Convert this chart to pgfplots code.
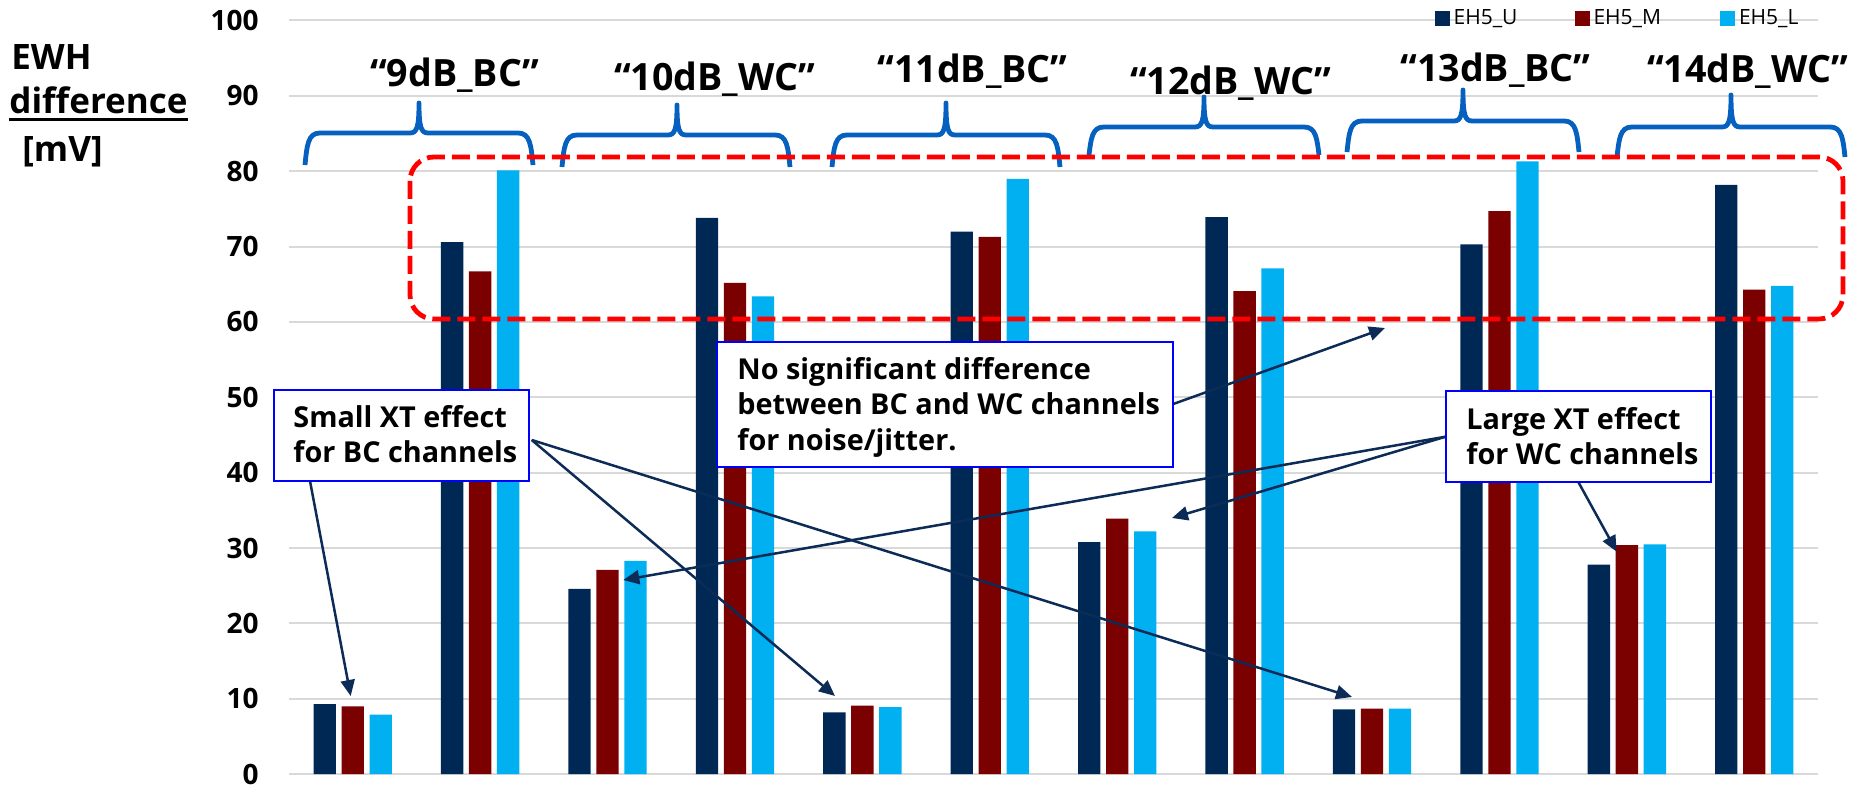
\documentclass[border=0pt]{standalone}
\usepackage{fontspec}
\setmainfont{Open Sans}
\usepackage{pgfplots}
\pgfplotsset{compat=1.18}
\usetikzlibrary{arrows.meta}
\definecolor{cU}{HTML}{002855}
\definecolor{cM}{HTML}{7B0000}
\definecolor{cL}{HTML}{00B0F0}
\definecolor{gridc}{HTML}{D9D9D9}
\definecolor{brc}{HTML}{0560C0}
\definecolor{arr}{HTML}{0C2B57}
\definecolor{boxb}{HTML}{0000FF}
\newcommand{\brc}[6]{%
\draw[brc, line width=2.4pt, line join=round] (#1,#5) .. controls ({#1+2},{#4+12}) and ({#1+3},#4) .. ({#1+15},#4) -- ({#3-9},#4) .. controls ({#3-2},#4) and (#3,{#4-6}) .. (#3,#6) .. controls (#3,{#4-6}) and ({#3+2},#4) .. ({#3+9},#4) -- ({#2-15},#4) .. controls ({#2-3},#4) and ({#2-2},{#4+12}) .. (#2,#5);}
\newcommand{\boxfont}{\fontsize{14.4}{17.5}\selectfont\bfseries}
\newcommand{\catfont}{\fontsize{18.8}{20}\selectfont\bfseries}
\newcommand{\ylfont}{\fontsize{17.5}{17.5}\selectfont\bfseries}
\begin{document}
\begin{tikzpicture}
\begin{axis}[
  at={(0pt,0pt)}, anchor=south west,
  scale only axis, width=764.5pt, height=376.85pt,
  xmin=-0.5, xmax=11.5, ymin=0, ymax=100,
  ytick={0,10,...,100}, xtick=\empty,
  ymajorgrids, grid style={gridc, line width=1pt},
  axis x line*=bottom, axis y line*=left,
  x axis line style={gridc, line width=1pt},
  y axis line style={draw=none},
  major tick length=0pt,
  /pgf/number format/assume math mode=true,
  yticklabel style={font=\fontsize{14}{14}\selectfont\bfseries, inner sep=0pt, xshift=-15pt},
  ybar, bar width=11.15pt,
  legend columns=3,
  legend style={at={(0.749,1.0027)}, anchor=west, draw=none, fill=none, inner sep=0pt,
    font=\fontsize{10.5}{10.5}\selectfont},
]
\addplot[fill=cU, draw=none, bar shift=-14pt, legend image code/.code={\fill[cU] (0pt,-3.75pt) rectangle (7.5pt,3.75pt);}] coordinates {
(0,9.3) (1,70.6) (2,24.6) (3,73.8) (4,8.2) (5,72.0) (6,30.8) (7,73.9) (8,8.6) (9,70.3) (10,27.8) (11,78.2)};
\addplot[fill=cM, draw=none, bar shift=0pt, legend image code/.code={\fill[cM] (0pt,-3.75pt) rectangle (7.5pt,3.75pt);}] coordinates {
(0,9.0) (1,66.7) (2,27.1) (3,65.2) (4,9.1) (5,71.3) (6,33.9) (7,64.1) (8,8.7) (9,74.7) (10,30.4) (11,64.3)};
\addplot[fill=cL, draw=none, bar shift=14pt, legend image code/.code={\fill[cL] (0pt,-3.75pt) rectangle (7.5pt,3.75pt);}] coordinates {
(0,7.9) (1,80.1) (2,28.3) (3,63.4) (4,8.9) (5,79.0) (6,32.2) (7,67.1) (8,8.7) (9,81.3) (10,30.5) (11,64.8)};
\legend{EH5\_U\hspace*{26.5pt}, EH5\_M\hspace*{27.5pt}, EH5\_L}
\end{axis}
\begin{scope}[x=0.5pt, y=-0.5pt, xshift=-144.5pt, yshift=387.1pt]
% y label
\node[anchor=base west, inner sep=0pt, font=\ylfont] at (11,70) {EWH};
\node[anchor=base west, inner sep=0pt, font=\ylfont] (dif) at (9,114) {difference};
\draw[line width=1.2pt] ([yshift=-2.8pt]dif.base west) -- ([yshift=-2.8pt]dif.base east);
\node[anchor=base west, inner sep=0pt, font=\ylfont] at (22,162) {[mV]};
% braces
\brc{305}{533}{419}{133}{165}{103}
\brc{562}{790}{677}{135}{167}{105}
\brc{832}{1060}{946}{135}{167}{103}
\brc{1089}{1319}{1204}{127}{155}{97}
\brc{1347}{1579}{1463}{121}{152}{90}
\brc{1617}{1845}{1731}{127}{157}{95}
% category labels
\node[anchor=base, inner sep=0pt, font=\catfont] at (454.5,87) {“9dB\_BC”};
\node[anchor=base, inner sep=0pt, font=\catfont] at (714.5,91) {“10dB\_WC”};
\node[anchor=base, inner sep=0pt, font=\catfont] at (972.5,83) {“11dB\_BC”};
\node[anchor=base, inner sep=0pt, font=\catfont] at (1230.5,95) {“12dB\_WC”};
\node[anchor=base, inner sep=0pt, font=\catfont] at (1495.5,82) {“13dB\_BC”};
\node[anchor=base, inner sep=0pt, font=\catfont] at (1747.5,83) {“14dB\_WC”};
% red dashed box
\draw[red, line width=2.4pt, dash pattern=on 9pt off 3.5pt, rounded corners=12pt] (410,157) rectangle (1843,319);
% arrows
\begin{scope}[arr, line width=1.25pt, -{Triangle[length=8pt,width=7pt]}]
\draw (310,481) -- (350.7,696);
\draw (531.7,440) -- (835,696);
\draw (531.7,440) -- (1352,697);
\draw (1173.3,404) -- (1385,328);
\draw (1445.7,436.7) -- (623.3,580);
\draw (1445.7,436.7) -- (1172,518);
\draw (1578.3,482) -- (1616.7,551.7);
\end{scope}
% boxes
\draw[boxb, line width=1pt, fill=white] (274,390) rectangle (529,481);
\node[anchor=base west, inner sep=0pt, font=\boxfont] at (293,428) {Small XT effect};
\node[anchor=base west, inner sep=0pt, font=\boxfont] at (293,463) {for BC channels};
\draw[boxb, line width=1pt, fill=white] (717,342) rectangle (1173,467);
\node[anchor=base west, inner sep=0pt, font=\boxfont] at (737,380) {No significant difference};
\node[anchor=base west, inner sep=0pt, font=\boxfont] at (737,415) {between BC and WC channels};
\node[anchor=base west, inner sep=0pt, font=\boxfont] at (737,451) {for noise/jitter.};
\draw[boxb, line width=1pt, fill=white] (1446,391) rectangle (1711,482);
\node[anchor=base west, inner sep=0pt, font=\boxfont] at (1466,430) {Large XT effect};
\node[anchor=base west, inner sep=0pt, font=\boxfont] at (1466,464.5) {for WC channels};
\pgfresetboundingbox
\useasboundingbox (0,0) rectangle (1852,785);
\end{scope}
\end{tikzpicture}
\end{document}
